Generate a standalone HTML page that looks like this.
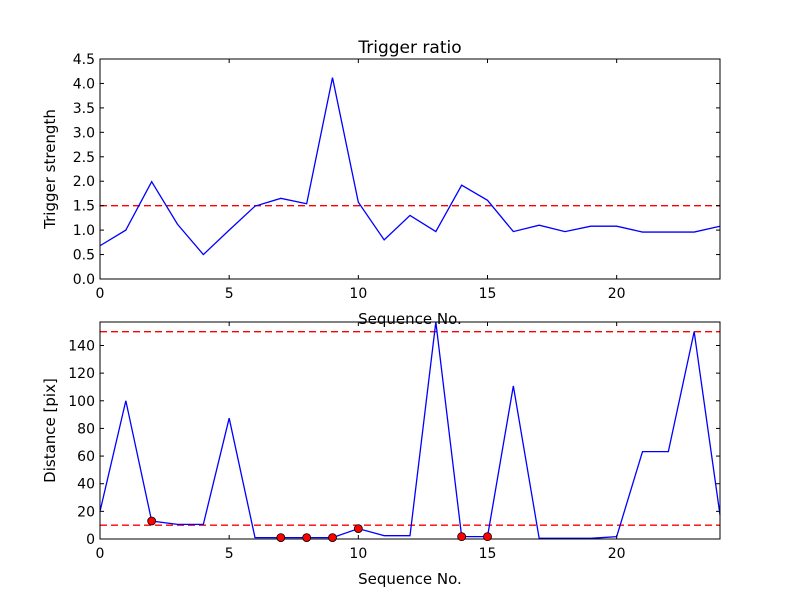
<!DOCTYPE html>
<html><head><meta charset="utf-8"><style>
html,body{margin:0;padding:0;background:#fff;}
svg text{font-family:"DejaVu Sans","Liberation Sans",sans-serif;fill:#000;}
</style></head><body>
<svg id="c" width="800" height="600" xmlns="http://www.w3.org/2000/svg">
<rect width="800" height="600" fill="#fff"/>
</svg>
<script>
const seq = [0,1,2,3,4,5,6,7,8,9,10,11,12,13,14,15,16,17,18,19,20,21,22,23,24];
const ratio = [0.68,1.0,1.99,1.12,0.5,1.0,1.49,1.65,1.54,4.12,1.57,0.8,1.3,0.97,1.92,1.61,0.97,1.1,0.97,1.08,1.08,0.96,0.96,0.96,1.08];
const dist = [20,100,13,10.6,10.6,87.4,1,1,1,1,7.5,2.4,2.4,157,1.7,1.7,110.7,0.5,0.5,0.5,1.7,63.2,63.2,150,17.4];
const flagged = [2,7,8,9,10,14,15];
const ratioThreshold = [1.5];
const distThresholds = [10,150];
const xTicks = [0,5,10,15,20];
const yTicksTop = [0,0.5,1,1.5,2,2.5,3,3.5,4,4.5];
const yTicksBot = [0,20,40,60,80,100,120,140];

const svg = document.getElementById('c');
const NS = 'http://www.w3.org/2000/svg';
function mk(tag, attrs, parent){const e=document.createElementNS(NS,tag);for(const k in attrs)e.setAttribute(k,attrs[k]);(parent||svg).appendChild(e);return e;}

function panel(name, top, bottom, ymax, ticks, fmt, data, thresholds, ylabel, title){
  const L=100,R=720;
  const g=mk('g',{});
  
  
  const X=v=>L+(v-0)/(24-0)*(R-L);
  const Y=v=>bottom-(v/ymax)*(bottom-top);
  thresholds.forEach(t=>{
    const l=mk('line',{x1:L,x2:R,y1:Y(t),y2:Y(t),stroke:'#ff0000','stroke-width':1.4,'stroke-dasharray':'7,4'},g);
    
    
  });
  const p=mk('polyline',{points:data.map((d,i)=>X(seq[i])+','+Y(d)).join(' '),fill:'none',stroke:'#0000ff','stroke-width':1.3},g);
  
  
  const f=mk('rect',{x:L,y:top,width:R-L,height:bottom-top,fill:'none',stroke:'#000','stroke-width':1},g);
  
  
  xTicks.forEach(t=>{
    mk('line',{x1:X(t),x2:X(t),y1:bottom,y2:bottom-4,stroke:'#000'},g);
    mk('line',{x1:X(t),x2:X(t),y1:top,y2:top+4,stroke:'#000'},g);
    const tx=mk('text',{x:X(t),y:bottom+19,'text-anchor':'middle','font-size':14},g);
    tx.textContent=t;
    
    
  });
  ticks.forEach(t=>{
    mk('line',{x1:L,x2:L+4,y1:Y(t),y2:Y(t),stroke:'#000'},g);
    mk('line',{x1:R,x2:R-4,y1:Y(t),y2:Y(t),stroke:'#000'},g);
    const tx=mk('text',{x:L-5,y:Y(t)+5,'text-anchor':'end','font-size':14},g);
    tx.textContent=fmt(t);
    
    
  });
  const xl=mk('text',{x:(L+R)/2,y:bottom+45,'text-anchor':'middle','font-size':15},g);
  xl.textContent='Sequence No.';
  
  
  const yl=mk('text',{x:0,y:0,'text-anchor':'middle','font-size':15,transform:`translate(${L-45},${(top+bottom)/2}) rotate(-90)`},g);
  yl.textContent=ylabel;
  
  
  if(title){
    const tt=mk('text',{x:(L+R)/2,y:top-6,'text-anchor':'middle','font-size':17},g);
    tt.textContent=title;
    
    
  }
  return {X,Y,g};
}

panel('trigger-ratio-panel',59,279,4.5,yTicksTop,t=>t.toFixed(1),ratio,ratioThreshold,'Trigger strength','Trigger ratio');
const b=panel('distance-panel',322,539,157,yTicksBot,t=>String(t),dist,distThresholds,'Distance [pix]',null);
flagged.forEach(i=>{
  const c=mk('circle',{cx:b.X(seq[i]),cy:b.Y(dist[i]),r:4,fill:'#ff0000',stroke:'#000','stroke-width':0.8},b.g);
  
  
});
</script>
</body></html>
